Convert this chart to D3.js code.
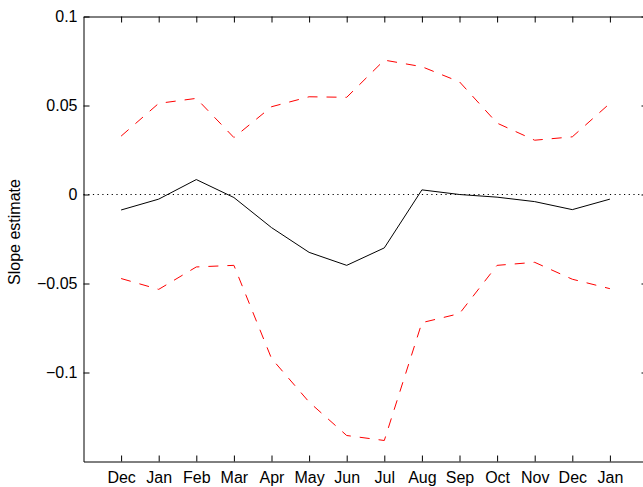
<!DOCTYPE html>
<html>
<head>
<meta charset="utf-8">
<script src="https://cdn.jsdelivr.net/npm/d3@7"></script>
<style>
    body { margin: 0; background: #fff; }
    svg { display: block; }
    text { font-family: "Liberation Sans", Arial, Helvetica, sans-serif; }
</style>
</head>
<body>
<div id="chart"></div>
<script>
// month labels along the x axis (positions 1..14)
const months = ["Dec", "Jan", "Feb", "Mar", "Apr", "May", "Jun", "Jul", "Aug", "Sep", "Oct", "Nov", "Dec", "Jan"];

// slope estimate and its upper / lower bounds
const slope = [-0.0087, -0.0026, 0.0084, -0.0017, -0.0186, -0.0325, -0.0398, -0.0300, 0.0026, 0.0000, -0.0015, -0.0040, -0.0085, -0.0026];
const upper = [0.0328, 0.0512, 0.0540, 0.0320, 0.0493, 0.0549, 0.0546, 0.0755, 0.0718, 0.0633, 0.0401, 0.0305, 0.0324, 0.0512];
const lower = [-0.0472, -0.0533, -0.0407, -0.0398, -0.0921, -0.1166, -0.1354, -0.1382, -0.0720, -0.0669, -0.0398, -0.0381, -0.0476, -0.0529];

const yTicks = [-0.1, -0.05, 0, 0.05, 0.1];
const yTickLabels = ["\u22120.1", "\u22120.05", "0", "0.05", "0.1"];

const margin = {top: 16.5, left: 83.5};
const width = 564;
const height = 445;

const svg = d3.select("#chart")
    .append("svg")
    .attr("width", 643)
    .attr("height", 487);

const g = svg.append("g")
    .attr("transform", "translate(" + margin.left + "," + margin.top + ")");

const x = d3.scaleLinear()
    .domain([0, 15])
    .range([0, width]);

const y = d3.scaleLinear()
    .domain([-0.15, 0.1])
    .range([height, 0]);

const idx = d3.range(1, months.length + 1);

// axes, ticks pointing inward like matlab
const xAxis = g.append("g")
    .attr("transform", "translate(0," + height + ")")
    .call(d3.axisBottom(x)
        .tickValues(idx)
        .tickFormat((d, i) => months[i])
        .tickSize(-6)
        .tickPadding(10)
        .tickSizeOuter(0));

g.append("g")
    .call(d3.axisTop(x).tickValues(idx).tickFormat("").tickSize(-6).tickSizeOuter(0));

g.append("g")
    .call(d3.axisLeft(y)
        .tickValues(yTicks)
        .tickFormat((d, i) => yTickLabels[i])
        .tickSize(-6)
        .tickPadding(6)
        .tickSizeOuter(0));

g.append("g")
    .attr("transform", "translate(" + width + ",0)")
    .call(d3.axisRight(y).tickValues(yTicks).tickFormat("").tickSize(-6).tickSizeOuter(0));

g.selectAll(".domain, .tick line").attr("stroke", "#000");
g.selectAll(".tick text")
    .attr("fill", "#000")
    .style("font-size", "16px");
xAxis.selectAll(".tick text").attr("dy", "0.71em");

// zero reference line
g.append("line")
    .attr("x1", 0)
    .attr("x2", width)
    .attr("y1", y(0))
    .attr("y2", y(0))
    .attr("stroke", "#000")
    .attr("stroke-width", 1)
    .attr("stroke-dasharray", "1.2,3.5");

const line = d3.line()
    .x((d, i) => x(i + 1))
    .y(d => y(d));

g.append("path")
    .datum(upper)
    .attr("d", line)
    .attr("fill", "none")
    .attr("stroke", "#ff0000")
    .attr("stroke-width", 1)
    .attr("stroke-dasharray", "10,9");

g.append("path")
    .datum(lower)
    .attr("d", line)
    .attr("fill", "none")
    .attr("stroke", "#ff0000")
    .attr("stroke-width", 1)
    .attr("stroke-dasharray", "10,9");

g.append("path")
    .datum(slope)
    .attr("d", line)
    .attr("fill", "none")
    .attr("stroke", "#000")
    .attr("stroke-width", 1);

// y label
svg.append("text")
    .attr("transform", "translate(20,232) rotate(-90)")
    .attr("text-anchor", "middle")
    .style("font-size", "16px")
    .attr("fill", "#000")
    .text("Slope estimate");
</script>
</body>
</html>
